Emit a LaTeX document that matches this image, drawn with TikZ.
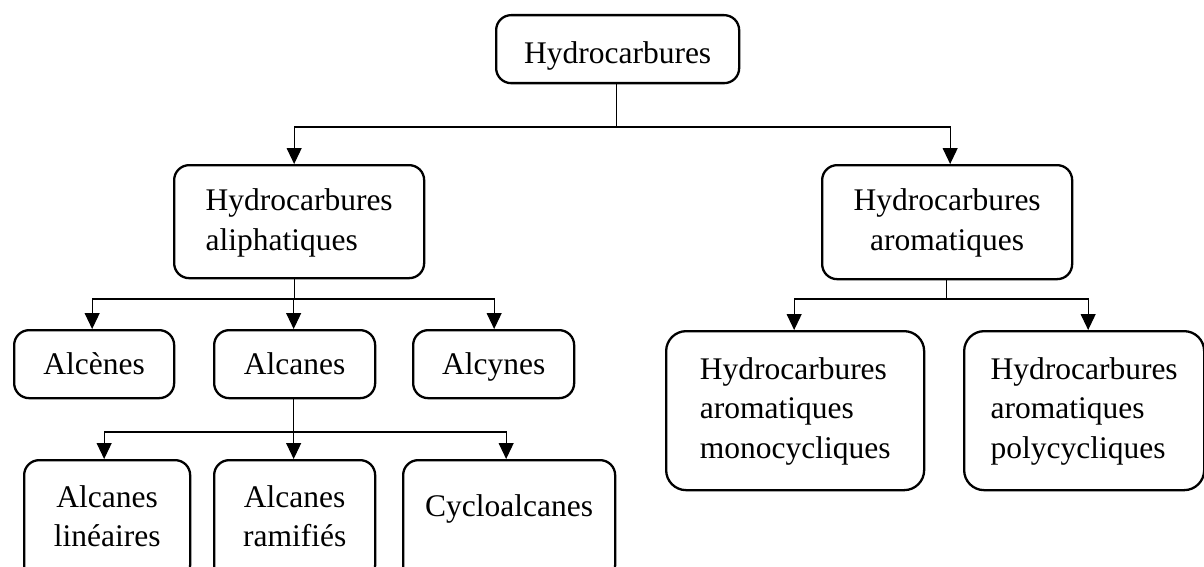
\documentclass[tikz,border=0pt]{standalone}
\usepackage{fontspec}
\setmainfont{Liberation Serif}
\usetikzlibrary{arrows.meta}
\newcommand\boxfont{\fontsize{31.5}{39.5}\selectfont}
\tikzset{
  hbox/.style={draw, line width=2.3pt, rounded corners=15pt, inner sep=0pt,
    anchor=north west, font=\boxfont},
  bigbox/.style={hbox, rounded corners=20pt},
  conn/.style={line width=1.1pt},
  arr/.style={conn, -{Triangle[width=15pt,length=16pt]}},
}
\begin{document}
\begin{tikzpicture}[x=1pt,y=-1pt]
\useasboundingbox (0,0) rectangle (1204,567);
\clip (0,0) rectangle (1204,567);

\node[hbox, minimum width=243pt, minimum height=68pt, text height=48pt, text depth=20pt, align=center]
  (top) at (495,14) {Hydrocarbures};

\node[hbox, minimum width=250pt, minimum height=113pt, text height=85pt, text depth=28pt, align=left]
  (ali) at (173,164) {Hydrocarbures\\aliphatiques};
\node[hbox, minimum width=250pt, minimum height=114pt, text height=85pt, text depth=29pt, align=center]
  (aro) at (821,164) {Hydrocarbures\\aromatiques};

\node[hbox, minimum width=160pt, minimum height=68pt, text height=44pt, text depth=24pt, align=center]
  (alce) at (13,329) {Alcènes};
\node[hbox, minimum width=161pt, minimum height=68pt, text height=44pt, text depth=24pt, align=center]
  (alca) at (213,329) {Alcanes};
\node[hbox, minimum width=161pt, minimum height=68pt, text height=44pt, text depth=24pt, align=center]
  (alcy) at (412,329) {Alcynes};

\node[hbox, minimum width=166pt, minimum height=120pt, text height=86.5pt, text depth=33.5pt, align=center]
  (lin) at (23,459) {Alcanes\\linéaires};
\node[hbox, minimum width=161pt, minimum height=120pt, text height=86.5pt, text depth=33.5pt, align=center]
  (ram) at (213,459) {Alcanes\\ramifiés};
\node[hbox, minimum width=212pt, minimum height=120pt, text height=56pt, text depth=64pt, align=center]
  (cyc) at (402,459) {Cycloalcanes};

\node[bigbox, minimum width=258pt, minimum height=159pt, text height=127pt, text depth=32pt, align=left]
  (mono) at (665,330) {Hydrocarbures\\aromatiques\\monocycliques};
\node[bigbox, minimum width=240pt, minimum height=159pt, text height=127pt, text depth=32pt, align=left]
  (poly) at (963,330) {Hydrocarbures\\aromatiques\\polycycliques};

% level 1
\coordinate (y1) at (0,127);
\draw[conn] ([xshift=-1.5pt]top.south) -- ([xshift=-1.5pt]top.south |- y1) coordinate (j1);
\draw[arr] (j1) -| ([xshift=-5pt]ali.north);
\draw[arr] (j1) -| ([xshift=3pt]aro.north);

% aliphatic
\coordinate (y2) at (0,299);
\draw[conn] ([xshift=-5pt]ali.south) -- ([xshift=-5pt]ali.south |- y2) coordinate (j2);
\draw[arr] (j2) -| ([xshift=-2pt]alce.north);
\draw[arr] (j2) -| ([xshift=-1pt]alca.north);
\draw[arr] (j2) -| ([xshift=0.5pt]alcy.north);

% alcanes
\coordinate (y3) at (0,432);
\draw[conn] ([xshift=-1pt]alca.south) -- ([xshift=-1pt]alca.south |- y3) coordinate (j3);
\draw[arr] (j3) -| ([xshift=-3pt]lin.north);
\draw[arr] (j3) -| ([xshift=-1pt]ram.north);
\draw[arr] (j3) -| ([xshift=-3pt]cyc.north);

% aromatic
\coordinate (y4) at (0,299);
\draw[conn] ([xshift=-1pt]aro.south) -- ([xshift=-1pt]aro.south |- y4) coordinate (j4);
\draw[arr] (j4) -| ([xshift=-1pt]mono.north);
\draw[arr] (j4) -| ([xshift=4pt]poly.north);
\end{tikzpicture}
\end{document}
